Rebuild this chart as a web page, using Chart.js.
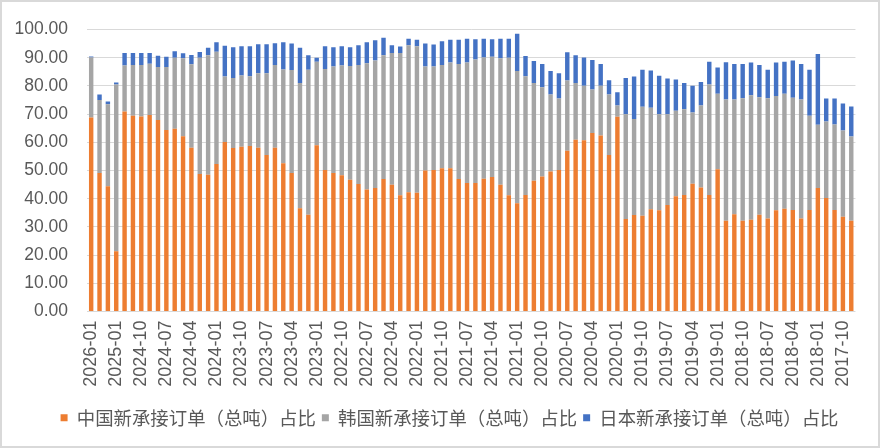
<!DOCTYPE html>
<html>
<head>
<meta charset="utf-8">
<script src="https://cdn.jsdelivr.net/npm/chart.js@4/dist/chart.umd.min.js"></script>
<style>
  html, body { margin: 0; padding: 0; background: #ffffff; }
  #wrap { position: relative; width: 882px; height: 448px; }
  #frame { position: absolute; left: 0; top: 0; width: 876px; height: 444px; border: 2px solid #d9d9d9; pointer-events: none; }
  canvas { display: block; }
</style>
</head>
<body>
<div id="wrap">
  <canvas id="c" width="882" height="448"></canvas>
  <div id="frame"></div>
</div>
<script>
const categories = [
  '2026-01','2025-03','2025-02','2025-01','2024-12','2024-11','2024-10','2024-09','2024-08','2024-07',
  '2024-06','2024-05','2024-04','2024-03','2024-02','2024-01','2023-12','2023-11','2023-10','2023-09',
  '2023-08','2023-07','2023-06','2023-05','2023-04','2023-03','2023-02','2023-01','2022-12','2022-11',
  '2022-10','2022-09','2022-08','2022-07','2022-06','2022-05','2022-04','2022-03','2022-02','2022-01',
  '2021-12','2021-11','2021-10','2021-09','2021-08','2021-07','2021-06','2021-05','2021-04','2021-03',
  '2021-02','2021-01','2020-12','2020-11','2020-10','2020-09','2020-08','2020-07','2020-06','2020-05',
  '2020-04','2020-03','2020-02','2020-01','2019-12','2019-11','2019-10','2019-09','2019-08','2019-07',
  '2019-06','2019-05','2019-04','2019-03','2019-02','2019-01','2018-12','2018-11','2018-10','2018-09',
  '2018-08','2018-07','2018-06','2018-05','2018-04','2018-03','2018-02','2018-01','2017-12','2017-11',
  '2017-10','2017-09'
];

const chinaShare = [
  68.8,49.1,44.4,21.4,70.9,69.4,69.2,69.7,67.9,64.4,
  64.8,62.2,58.1,48.8,48.5,52.3,60.1,58.0,58.4,58.7,
  58.1,55.5,58.1,52.6,49.1,36.6,34.3,59.0,50.2,49.1,
  48.3,46.7,45.2,43.3,43.8,47.0,45.0,41.2,42.3,42.1,
  50.0,50.2,50.8,50.8,47.0,45.6,45.6,47.1,47.7,45.0,
  41.2,38.4,41.3,46.4,47.9,49.7,50.2,57.0,60.9,60.7,
  63.3,62.4,55.5,69.1,32.8,34.2,34.0,36.3,35.9,37.8,
  40.9,41.3,45.3,44.0,41.3,50.5,32.2,34.5,32.2,32.6,
  34.3,33.0,35.9,36.5,36.0,33.0,36.0,43.8,40.3,36.0,
  33.6,32.2
];

const koreaShare = [
  21.3,25.9,29.1,59.1,16.3,18.0,18.2,18.2,18.8,22.3,
  25.2,27.6,29.6,41.2,42.4,39.8,23.2,24.8,25.3,24.7,
  26.4,29.0,29.3,33.2,36.5,44.4,51.4,29.6,35.8,37.8,
  38.9,40.4,42.2,44.7,45.2,43.9,46.7,50.5,52.1,52.0,
  36.9,36.7,36.6,37.5,40.8,42.7,43.8,43.0,42.6,44.8,
  48.8,46.9,42.1,34.6,31.6,27.3,25.3,24.9,20.1,19.4,
  15.4,17.7,21.5,4.0,37.2,34.1,38.6,36.0,34.1,32.2,
  30.3,30.4,25.3,29.1,39.2,26.7,43.0,40.7,43.4,44.1,
  41.7,42.6,40.5,40.7,39.8,42.2,33.4,22.4,27.1,30.3,
  30.6,29.9
];

const japanShare = [
  0.3,2.0,1.0,0.7,4.5,4.3,4.3,3.8,4.0,3.6,
  2.3,1.8,3.3,2.0,2.6,3.4,10.9,10.9,10.4,10.7,
  10.3,10.3,7.7,9.7,9.4,12.5,5.2,1.4,8.1,6.8,
  6.9,6.6,7.0,7.5,7.2,6.2,2.7,2.3,2.3,2.3,
  8.1,7.8,8.4,8.1,8.6,8.4,7.1,6.6,6.2,6.9,
  6.7,13.2,7.2,7.8,8.3,8.3,9.0,10.0,9.9,10.0,
  10.5,7.7,5.0,4.7,12.8,15.0,13.1,13.2,13.6,12.6,
  11.1,9.3,9.5,8.3,8.1,9.3,13.2,12.6,12.2,11.6,
  11.4,10.1,11.9,11.4,13.2,12.6,16.3,25.1,8.1,9.2,
  9.6,10.6
];

const seriesNames = ['中国新承接订单（总吨）占比', '韩国新承接订单（总吨）占比', '日本新承接订单（总吨）占比'];
const seriesColors = ['#ED7D31', '#A5A5A5', '#4472C4'];
const labelEvery = 3;

const legendShift = {
  id: 'legendShift',
  afterLayout(chart) {
    const lg = chart.legend;
    if (lg) { lg.left += 21; lg.right += 21; }
  }
};

const mk = (i, data) => ({
  label: seriesNames[i],
  data: data,
  backgroundColor: seriesColors[i],
  borderWidth: 0,
  categoryPercentage: 1.0,
  barPercentage: 0.53
});

new Chart(document.getElementById('c'), {
  type: 'bar',
  data: {
    labels: categories,
    datasets: [mk(0, chinaShare), mk(1, koreaShare), mk(2, japanShare)]
  },
  options: {
    responsive: false,
    animation: false,
    devicePixelRatio: 1,
    layout: { padding: { top: 22, right: 25, bottom: 11, left: 0 } },
    plugins: {
      tooltip: { enabled: false },
      legend: {
        position: 'bottom',
        labels: {
          boxWidth: 7,
          boxHeight: 7,
          padding: 6,
          color: '#595959',
          font: { family: '"Noto Sans CJK SC", "Noto Sans", sans-serif', size: 18.4 }
        }
      }
    },
    scales: {
      x: {
        stacked: true,
        grid: { display: false, drawTicks: false },
        border: { display: false },
        afterFit(scale) { scale.height = 91; },
        ticks: {
          autoSkip: false,
          maxRotation: 90,
          minRotation: 90,
          padding: 9,
          color: '#595959',
          font: { family: '"Liberation Sans", Arial, sans-serif', size: 18 },
          callback(value, index) { return index % labelEvery === 0 ? categories[index] : ''; }
        }
      },
      y: {
        stacked: true,
        min: 0,
        max: 100,
        grid: { color: '#d9d9d9', lineWidth: 1, drawTicks: false },
        border: { display: false },
        afterFit(scale) { scale.width = 87; },
        ticks: {
          stepSize: 10,
          padding: 19,
          color: '#595959',
          font: { family: '"Liberation Sans", Arial, sans-serif', size: 17.5 },
          callback(v) { return Number(v).toFixed(2); }
        }
      }
    }
  },
  plugins: [legendShift]
});
</script>
</body>
</html>
